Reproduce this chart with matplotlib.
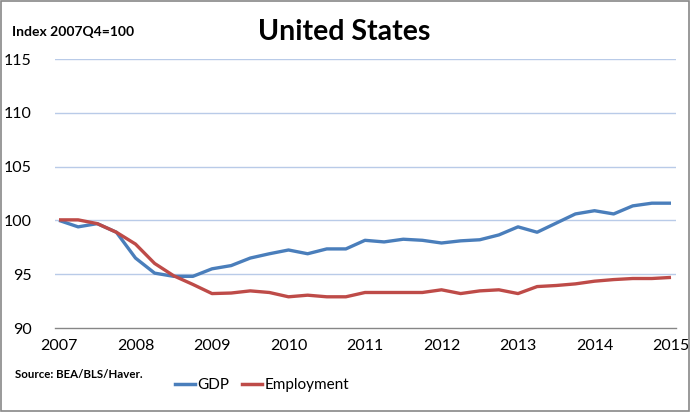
import matplotlib
matplotlib.use("Agg")
import matplotlib.pyplot as plt
from matplotlib.patches import Rectangle
from matplotlib.lines import Line2D

# Quarterly data, 2007 .. 2015 (33 quarters), index 2007Q4 = 100
start_year = 2007
gdp = [100.0, 99.4, 99.7, 98.9, 96.5, 95.1, 94.8, 94.8, 95.5, 95.8, 96.5,
       96.9, 97.25, 96.9, 97.35, 97.35, 98.15, 98.0, 98.25, 98.15, 97.9,
       98.1, 98.2, 98.65, 99.4, 98.9, 99.75, 100.6, 100.9, 100.6, 101.35,
       101.6, 101.6]
employment = [100.05, 100.05, 99.7, 98.9, 97.8, 96.0, 94.85, 94.05, 93.2,
              93.25, 93.45, 93.3, 92.9, 93.05, 92.9, 92.9, 93.3, 93.3, 93.3,
              93.3, 93.55, 93.2, 93.45, 93.55, 93.2, 93.85, 93.95, 94.1,
              94.35, 94.5, 94.6, 94.6, 94.7]
year_ticks = [2007, 2008, 2009, 2010, 2011, 2012, 2013, 2014, 2015]
y_ticks = [90, 95, 100, 105, 110, 115]

x = [start_year + k / 4 for k in range(len(gdp))]

plt.rcParams['font.family'] = ['Lato', 'DejaVu Sans']

fig = plt.figure(figsize=(6.91, 4.12), dpi=100)
ax = fig.add_axes([55 / 691, (412 - 328) / 412, (676 - 55) / 691, (328 - 59) / 412])

blue = '#4a7ebb'
red = '#be4b48'
ax.plot(x, gdp, color=blue, lw=2.4, solid_capstyle='butt', zorder=3)
ax.plot(x, employment, color=red, lw=2.4, solid_capstyle='butt', zorder=3)

ax.set_ylim(90, 115)
ax.set_xlim(2007 - 4 / 76.5, 2015 + 5 / 76.5)
ax.set_yticks(y_ticks)
ax.set_xticks(year_ticks)
ax.set_xticklabels([str(v) for v in year_ticks])
for v in y_ticks[1:]:
    ax.axhline(v, color='#b9cbe8', lw=1.0, zorder=1)
for s in ['left', 'right', 'top']:
    ax.spines[s].set_visible(False)
ax.spines['bottom'].set_color('#868686')
ax.spines['bottom'].set_linewidth(1.0)
ax.tick_params(axis='both', length=0, labelsize=11.5, colors='black')
ax.tick_params(axis='y', pad=17)
ax.tick_params(axis='x', pad=8)

fig.text(344 / 691, 1 - 32 / 412, 'United States', ha='center', va='center',
         fontsize=20.5, fontweight='bold')
fig.text(12 / 691, 1 - 32 / 412, 'Index 2007Q4=100', ha='left', va='center',
         fontsize=10, fontweight='bold')
fig.text(15 / 691, 1 - 375 / 412, 'Source: BEA/BLS/Haver.', ha='left', va='center',
         fontsize=8.3, fontweight='bold')

handles = [Line2D([], [], color=blue, lw=2.5), Line2D([], [], color=red, lw=2.5)]
leg = fig.legend(handles, ['GDP', 'Employment'], loc='center',
                 bbox_to_anchor=(262 / 691, 1 - 385 / 412), ncol=2, frameon=False,
                 fontsize=11, handlelength=1.3, handletextpad=0.2, columnspacing=0.8)

fig.patches.append(Rectangle((0.002, 0.003), 0.995, 0.994, transform=fig.transFigure,
                             fill=False, edgecolor='#888888', lw=1.2))

fig.savefig('out.png', dpi=100)
